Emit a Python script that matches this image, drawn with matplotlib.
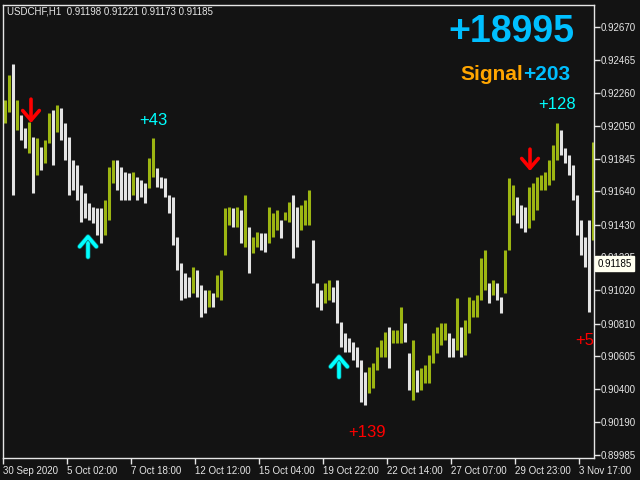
import numpy as np
import matplotlib
matplotlib.use("Agg")
import matplotlib.pyplot as plt
import matplotlib.patheffects as pe

plt.rcParams['font.family'] = ['Liberation Sans', 'DejaVu Sans']

highs = [0.92213, 0.92370, 0.92439, 0.92213, 0.92119, 0.92037, 0.92075, 0.91981, 0.91975, 0.91918,
         0.91962, 0.92132, 0.92150, 0.92182, 0.92163, 0.92069, 0.91981, 0.91837, 0.91805, 0.91680,
         0.91629, 0.91567, 0.91541, 0.91535, 0.91535, 0.91585, 0.91793, 0.91837, 0.91837, 0.91793,
         0.91761, 0.91755, 0.91761, 0.91730, 0.91711, 0.91692, 0.91849, 0.91975, 0.91786, 0.91730,
         0.91723, 0.91617, 0.91604, 0.91353, 0.91190, 0.91127, 0.91102, 0.91165, 0.91146, 0.91052,
         0.91020, 0.91020, 0.91002, 0.91115, 0.91146, 0.91535, 0.91541, 0.91535, 0.91541, 0.91523,
         0.91617, 0.91416, 0.91353, 0.91385, 0.91378, 0.91378, 0.91541, 0.91504, 0.91523, 0.91460,
         0.91510, 0.91573, 0.91617, 0.91541, 0.91554, 0.91585, 0.91648, 0.91334, 0.91064, 0.91020,
         0.91064, 0.91083, 0.91039, 0.91083, 0.90820, 0.90750, 0.90719, 0.90694, 0.90663, 0.90581,
         0.90506, 0.90537, 0.90562, 0.90663, 0.90706, 0.90757, 0.90788, 0.90769, 0.90769, 0.90914,
         0.90813, 0.90625, 0.90706, 0.90518, 0.90531, 0.90550, 0.90612, 0.90750, 0.90788, 0.90813,
         0.90813, 0.90750, 0.90719, 0.90970, 0.90788, 0.90832, 0.90976, 0.90958, 0.90989, 0.91221,
         0.91272, 0.91064, 0.91083, 0.91064, 0.90976, 0.91272, 0.91723, 0.91680, 0.91604, 0.91554,
         0.91541, 0.91667, 0.91692, 0.91730, 0.91742, 0.91761, 0.91837, 0.91931, 0.92069, 0.92025,
         0.91912, 0.91868, 0.91805, 0.91617, 0.91460, 0.91353, 0.91460, 0.91950]
lows = [0.92069, 0.92138, 0.91617, 0.92025, 0.91962, 0.91912, 0.91880, 0.91629, 0.91742, 0.91774,
        0.91818, 0.91943, 0.91805, 0.92012, 0.91962, 0.91837, 0.91617, 0.91648, 0.91585, 0.91447,
        0.91472, 0.91460, 0.91441, 0.91366, 0.91315, 0.91366, 0.91460, 0.91692, 0.91648, 0.91585,
        0.91585, 0.91585, 0.91617, 0.91585, 0.91604, 0.91567, 0.91661, 0.91730, 0.91667, 0.91661,
        0.91604, 0.91504, 0.91303, 0.91146, 0.90958, 0.90970, 0.90976, 0.91002, 0.90976, 0.90851,
        0.90876, 0.90914, 0.90914, 0.90976, 0.90958, 0.91240, 0.91428, 0.91416, 0.91416, 0.91315,
        0.91290, 0.91127, 0.91253, 0.91290, 0.91272, 0.91259, 0.91315, 0.91353, 0.91397, 0.91347,
        0.91460, 0.91447, 0.91221, 0.91290, 0.91397, 0.91428, 0.91428, 0.91064, 0.90914, 0.90895,
        0.90939, 0.90958, 0.90945, 0.90813, 0.90663, 0.90631, 0.90631, 0.90581, 0.90537, 0.90317,
        0.90298, 0.90374, 0.90405, 0.90518, 0.90600, 0.90600, 0.90531, 0.90688, 0.90688, 0.90688,
        0.90694, 0.90393, 0.90330, 0.90380, 0.90393, 0.90437, 0.90437, 0.90562, 0.90625, 0.90675,
        0.90706, 0.90600, 0.90600, 0.90644, 0.90600, 0.90612, 0.90750, 0.90851, 0.90851, 0.90958,
        0.91020, 0.90939, 0.90989, 0.90958, 0.90876, 0.91002, 0.91272, 0.91491, 0.91441, 0.91410,
        0.91385, 0.91410, 0.91460, 0.91523, 0.91648, 0.91648, 0.91680, 0.91711, 0.91837, 0.91868,
        0.91818, 0.91742, 0.91585, 0.91366, 0.91240, 0.91165, 0.90882, 0.91334]

time_labels = ['30 Sep 2020', '5 Oct 02:00', '7 Oct 18:00', '12 Oct 12:00', '15 Oct 04:00',
               '19 Oct 22:00', '22 Oct 14:00', '27 Oct 07:00', '29 Oct 23:00', '3 Nov 17:00']
price_ticks = [0.92670, 0.92465, 0.92260, 0.92050, 0.91845, 0.91640, 0.91430,
               0.91225, 0.91020, 0.90810, 0.90605, 0.90400, 0.90190, 0.89985]

# signals: (bar, price)
sell_arrows = [(6.5, 0.92219, 0.92069), (131.25, 0.91905, 0.91768)]
buy_arrows = [(20.75, 0.91228, 0.91372), (83.5, 0.90474, 0.90618)]
profit_texts = [(37, 0.92088, '+43', '#00FFFF'), (138, 0.92188, '+128', '#00FFFF'),
                (90.5, 0.90123, '+139', '#FF0000'), (142.5, 0.90706, '+5', '#FF0000')]

bg = '#131313'
fg = '#E6E6E6'
up_col = '#9CB512'
dn_col = '#E4E4E4'

highs = np.array(highs)
lows = np.array(lows)
x = np.arange(len(highs))
mid = (highs + lows) / 2
cols = [up_col if i == 0 or mid[i] >= mid[i - 1] else dn_col for i in range(len(mid))]

fig = plt.figure(figsize=(6.4, 4.8), dpi=100, facecolor=bg)
ax = fig.add_axes([3 / 640, 22 / 480, 591 / 640, 453 / 480], facecolor=bg)

ax.vlines(x, lows, highs, colors=cols, linewidth=2.2)

astyle = '->,head_length=0.7,head_width=0.6'
for bx, top, tip in sell_arrows:
    ax.annotate('', xy=(bx, tip), xytext=(bx, top),
                arrowprops=dict(arrowstyle=astyle, lw=2.6, color='#FF0000',
                                shrinkA=0, shrinkB=0))
for bx, bot, tip in buy_arrows:
    ax.annotate('', xy=(bx, tip), xytext=(bx, bot),
                arrowprops=dict(arrowstyle=astyle, lw=2.6, color='#00FFFF',
                                shrinkA=0, shrinkB=0,
                                path_effects=[pe.withStroke(linewidth=3.6, foreground='#0B6E6E')]))

for bx, py, s, c in profit_texts:
    ha = 'left' if s == '+5' else 'center'
    ax.text(bx, py, s, color=c, fontsize=12, ha=ha, va='center', clip_on=True)

ax.set_xlim(-0.5, 147.25)
ax.set_ylim(0.89966, 0.92810)

ax.set_xticks(np.arange(len(time_labels)) * 16 - 0.5)
ax.set_xticklabels(time_labels, ha='left')
ax.yaxis.tick_right()
ax.set_yticks(price_ticks)
ax.set_yticklabels(['%.5f' % p for p in price_ticks])
ax.tick_params(axis='both', colors=fg, labelcolor=fg, labelsize=7, length=4, width=1,
               direction='out', pad=1)
ax.tick_params(axis='x', pad=2)
for sp in ax.spines.values():
    sp.set_color(fg)
    sp.set_linewidth(1)

# current price box (covers the 0.91225 label, as in the terminal)
ax.text(1.006, 0.91185, '0.91185', transform=ax.get_yaxis_transform(), fontsize=7,
        color='black', va='center', ha='left', zorder=10, clip_on=False,
        bbox=dict(boxstyle='square,pad=0.25', facecolor='#FFFFF0', edgecolor='#FFFFF0'))

fig.text(7 / 640, 1 - 11 / 480, 'USDCHF,H1  0.91198 0.91221 0.91173 0.91185',
         color=fg, fontsize=7, va='center', ha='left')
fig.text(574 / 640, 1 - 32 / 480, '+18995', color='#00BFFF', fontsize=27,
         fontweight='bold', ha='right', va='center')
fig.text(523 / 640, 1 - 75 / 480, '+203', color='#00BFFF', fontsize=15,
         fontweight='bold', ha='left', va='center')
fig.text(523 / 640, 1 - 75 / 480, 'Signal', color='#FFA500', fontsize=15,
         fontweight='bold', ha='right', va='center')

fig.savefig('out.png', dpi=100, facecolor=bg)
